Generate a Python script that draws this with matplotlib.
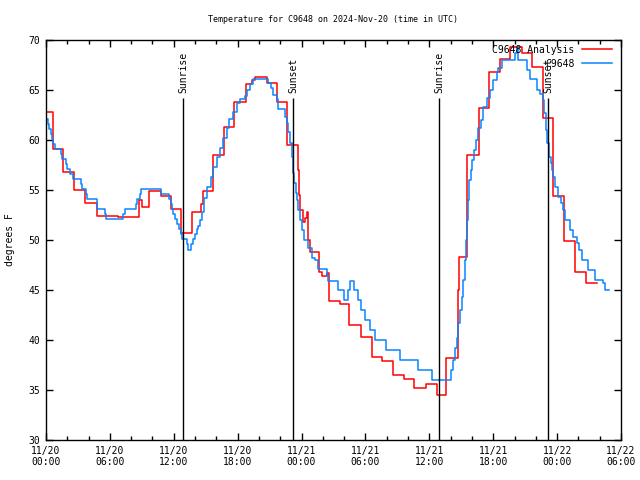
import numpy as np
import matplotlib
matplotlib.use("Agg")
import matplotlib.pyplot as plt
from matplotlib.ticker import MultipleLocator

# hours since 2024-11-20 00:00 UTC
red_hours = [0.0, 0.7, 1.6, 2.6, 3.7, 4.8, 6.8, 8.7, 9.0, 9.7, 10.8, 11.7, 12.7, 13.7,
             14.6, 14.7, 15.7, 16.7, 17.7, 18.8, 19.3, 19.6, 20.8, 21.7, 22.6, 23.7,
             23.8, 23.9, 24.1, 24.3, 24.5, 24.65, 24.75, 25.6, 25.9, 26.4, 26.6, 27.6,
             28.5, 29.6, 30.65, 31.6, 32.6, 33.65, 34.6, 35.65, 36.7, 37.6, 38.7, 38.8,
             39.5, 40.7, 41.6, 42.6, 43.6, 44.7, 45.6, 46.65, 47.6, 48.6, 49.7, 50.7]
red_temp = [62.8, 59.1, 56.8, 55.0, 53.7, 52.4, 52.3, 54.0, 53.3, 54.9, 54.4, 53.1, 50.7, 52.8,
            53.6, 54.9, 58.5, 61.3, 63.8, 65.6, 66.0, 66.3, 65.7, 63.8, 59.5, 57.0,
            54.5, 53.0, 51.8, 52.2, 52.8, 50.0, 48.8, 46.8, 46.4, 46.7, 43.9, 43.6,
            41.5, 40.3, 38.3, 37.9, 36.5, 36.1, 35.2, 35.6, 34.5, 38.2, 45.0, 48.3,
            58.5, 63.2, 66.8, 68.1, 69.3, 68.7, 67.3, 62.2, 54.4, 49.9, 46.8, 45.7]
red_end = 51.7

blue_hours = [0.0, 0.19, 0.31, 0.44, 0.56, 0.69, 0.88, 1.38, 1.50, 1.88, 2.0, 2.25, 2.56, 3.26,
              3.35, 3.76, 3.88, 4.76, 5.51, 5.63, 7.26, 7.45, 8.42, 8.51, 8.8, 8.95, 10.83,
              11.58, 11.71, 11.83, 11.96, 12.08, 12.27, 12.46, 12.65, 12.77, 13.21, 13.34,
              13.65, 13.77, 14.0, 14.15, 14.31, 14.46, 14.62, 14.84, 15.09, 15.46, 15.71,
              16.03, 16.34, 16.65, 16.97, 17.19, 17.59, 17.91, 18.22, 18.69, 18.85, 19.16,
              19.47, 20.88, 21.1, 21.35, 21.66, 21.82, 22.45, 22.6, 22.76, 22.91, 23.07,
              23.23, 23.32, 23.45, 23.54, 23.7, 23.85, 24.07, 24.26, 24.57, 24.95, 25.26,
              25.57, 26.36, 26.51, 27.39, 28.02, 28.39, 28.55, 28.93, 29.27, 29.58, 29.96,
              30.43, 30.9, 31.93, 33.25, 34.9, 36.28, 38.0, 38.19, 38.41, 38.57, 38.72,
              38.88, 39.04, 39.19, 39.35, 39.44, 39.57, 39.66, 39.75, 39.89, 40.04, 40.19,
              40.35, 40.6, 40.82, 41.07, 41.38, 41.7, 42.01, 42.33, 42.48, 42.8, 44.05,
              44.2, 44.36, 45.2, 45.45, 46.14, 46.39, 46.64, 46.77, 46.96, 47.08, 47.27,
              47.4, 47.52, 47.64, 47.8, 48.05, 48.34, 48.52, 48.74, 49.21, 49.52, 49.84,
              50.09, 50.31, 50.93, 51.56, 52.28, 52.5]
blue_temp = [62.1, 61.6, 61.1, 60.6, 60.1, 59.6, 59.1, 58.6, 58.1, 57.6, 57.1, 56.6, 56.1, 55.6,
             55.1, 54.6, 54.1, 53.1, 52.6, 52.1, 52.6, 53.1, 53.6, 54.1, 54.6, 55.1, 54.6,
             54.1, 53.6, 53.1, 52.6, 52.1, 51.6, 51.1, 50.6, 50.1, 49.6, 49.0,
             49.6, 50.1, 50.6, 51.1, 51.4, 52.0, 52.8, 54.2, 55.3, 56.3, 57.3,
             58.3, 59.2, 60.2, 61.2, 62.1, 62.8, 63.7, 64.1, 64.4, 65.0, 65.6,
             66.1, 65.7, 65.2, 64.5, 64.1, 63.1, 62.3, 61.7, 60.8, 59.7, 58.3,
             56.7, 55.7, 54.7, 54.0, 53.0, 52.0, 51.0, 50.0, 49.2, 48.2, 48.0,
             47.1, 46.5, 45.9, 45.0, 44.0, 45.0, 45.9, 45.0, 44.0, 43.0, 42.0,
             41.0, 40.0, 39.0, 38.0, 37.0, 36.0, 37.0, 38.0, 39.2, 40.2, 41.7,
             43.0, 44.3, 46.0, 48.0, 50.0, 52.0, 54.0, 56.0, 57.0, 58.0, 59.0,
             60.0, 61.2, 62.0, 63.3, 64.2, 65.0, 66.0, 66.8, 67.2, 68.0, 68.7,
             69.3, 68.0, 67.0, 66.1, 65.0, 64.6, 64.0, 62.7, 61.0, 59.7, 58.3,
             57.7, 57.0, 56.3, 55.3, 54.3, 53.7, 53.0, 52.0, 51.0, 50.3, 49.7,
             49.0, 48.0, 47.0, 46.0, 45.7, 45.0]
blue_end = 52.9

sun_hours = [12.87, 23.19, 36.9, 47.14]
sun_labels = ["Sunrise", "Sunset", "Sunrise", "Sunset"]

tick_hours = [0, 6, 12, 18, 24, 30, 36, 42, 48, 54]
tick_labels = ["11/20\n00:00", "11/20\n06:00", "11/20\n12:00", "11/20\n18:00",
               "11/21\n00:00", "11/21\n06:00", "11/21\n12:00", "11/21\n18:00",
               "11/22\n00:00", "11/22\n06:00"]

plt.rcParams["font.family"] = ["DejaVu Sans Mono"]
plt.rcParams["font.size"] = 7

fig = plt.figure(figsize=(6.4, 4.8), dpi=100)
ax = fig.add_axes([46 / 640, 40 / 480, 575 / 640, 400 / 480])

rx = np.append(red_hours, red_end)
ry = np.append(red_temp, red_temp[-1])
bx = np.append(blue_hours, blue_end)
by = np.append(blue_temp, blue_temp[-1])
ax.step(rx, ry, where="post", color="#ff0000", lw=1.1, label="C9648 Analysis")
ax.step(bx, by, where="post", color="#0a84ff", lw=1.1, label="C9648")

for t, name in zip(sun_hours, sun_labels):
    ax.vlines(t, 30, 64.2, color="black", lw=1)
    ax.text(t, 64.7, name, rotation=90, ha="center", va="bottom", fontsize=7)

ax.set_xlim(0, 54)
ax.set_ylim(30, 70)
ax.set_xticks(tick_hours)
ax.set_xticklabels(tick_labels)
ax.xaxis.set_minor_locator(MultipleLocator(2))
ax.yaxis.set_major_locator(MultipleLocator(5))
ax.tick_params(which="both", direction="in", top=True, right=True, width=1)
ax.tick_params(which="major", length=5, pad=4)
ax.tick_params(which="minor", length=3)
for s in ax.spines.values():
    s.set_linewidth(1)

ax.set_title("Temperature for C9648 on 2024-Nov-20 (time in UTC)", fontsize=6, pad=13)
ax.set_ylabel("degrees F", labelpad=10)

ax.legend(loc="upper right", markerfirst=False, frameon=False, handlelength=3.0,
          handletextpad=0.8, labelspacing=0.4, borderaxespad=0.1,
          bbox_to_anchor=(0.992, 1.0))

fig.savefig("out.png", dpi=100)
